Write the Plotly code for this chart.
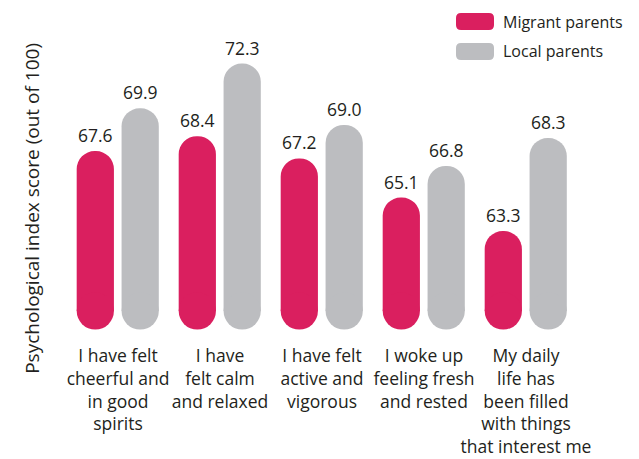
import plotly.graph_objects as go

categories = [
    "I have felt<br>cheerful and<br>in good<br>spirits",
    "I have<br>felt calm<br>and relaxed",
    "I have felt<br>active and<br>vigorous",
    "I woke up<br>feeling fresh<br>and rested",
    "My daily<br>life has<br>been filled<br>with things<br>that interest me",
]
migrant = [67.6, 68.4, 67.2, 65.1, 63.3]
local = [69.9, 72.3, 69.0, 66.8, 68.3]
series_names = ["Migrant parents", "Local parents"]
axis_min = 59   # value at the centre of each bar's rounded foot
axis_max = 74

MAG = "#DA1F5F"
GRAY = "#BCBDC0"
TXT = "#231F20"
FONT = "Open Sans"

W, H = 639, 459
L, R, T = 67, 62, 32
plot_w = W - L - R
px_per_cat = plot_w / len(categories)
bar_w = 0.365
bar_px = bar_w * px_per_cat
px_per_unit = bar_px / 2          # foot radius equals one value unit
plot_h = (axis_max - axis_min) * px_per_unit
B = H - T - plot_h

x_idx = list(range(len(categories)))
fig = go.Figure()

offsets = [-0.405, 0.035]
for name, vals, color, off in zip(series_names, [migrant, local], [MAG, GRAY], offsets):
    fig.add_trace(go.Bar(
        x=x_idx, y=vals, width=bar_w, offset=off, name=name,
        marker=dict(color=color, line=dict(width=0), cornerradius="50%"),
        showlegend=False, hoverinfo="skip"))
    fig.add_trace(go.Scatter(
        x=[i + off + bar_w / 2 for i in x_idx], y=[axis_min] * len(x_idx),
        mode="markers", cliponaxis=False, showlegend=False, hoverinfo="skip",
        marker=dict(symbol="circle", size=bar_px, color=color, line=dict(width=0))))

def px2x(px):
    return (px - L) / plot_w
def py2y(py):
    return (T + plot_h - py) / plot_h

annotations = []
for vals, off in zip([migrant, local], offsets):
    for i, v in enumerate(vals):
        annotations.append(dict(
            x=i + off + bar_w / 2, y=v, xref="x", yref="y", text=f"{v:.1f}", showarrow=False,
            xanchor="center", yanchor="bottom", yshift=2,
            font=dict(family=FONT, size=17.5, color=TXT)))

annotations.append(dict(
    x=px2x(32), y=py2y(209), xref="paper", yref="paper",
    text="Psychological index score (out of 100)",
    showarrow=False, textangle=-90, xanchor="center", yanchor="middle",
    font=dict(family=FONT, size=19, color=TXT)))

shapes = []
def rounded(x0, y0, x1, y1, r):
    X = px2x; Y = py2y
    return (f"M{X(x0+r)},{Y(y0)} L{X(x1-r)},{Y(y0)} Q{X(x1)},{Y(y0)} {X(x1)},{Y(y0+r)} "
            f"L{X(x1)},{Y(y1-r)} Q{X(x1)},{Y(y1)} {X(x1-r)},{Y(y1)} "
            f"L{X(x0+r)},{Y(y1)} Q{X(x0)},{Y(y1)} {X(x0)},{Y(y1-r)} "
            f"L{X(x0)},{Y(y0+r)} Q{X(x0)},{Y(y0)} {X(x0+r)},{Y(y0)} Z")

for j, (name, color) in enumerate(zip(series_names, [MAG, GRAY])):
    y0 = 13 + j * 30
    shapes.append(dict(type="path", xref="paper", yref="paper",
                       path=rounded(456, y0, 494, y0 + 17, 5),
                       fillcolor=color, line=dict(width=0)))
    annotations.append(dict(x=px2x(501), y=py2y(y0 + 8.5), xref="paper", yref="paper",
                            text=name, showarrow=False, xanchor="left", yanchor="middle",
                            font=dict(family=FONT, size=16, color=TXT)))

fig.update_layout(
    width=W, height=H,
    margin=dict(l=L, r=R, t=T, b=B, pad=0),
    barmode="overlay",
    plot_bgcolor="white", paper_bgcolor="white",
    showlegend=False,
    annotations=annotations,
    shapes=shapes,
    xaxis=dict(
        tickmode="array", tickvals=x_idx, ticktext=categories,
        range=[-0.5, len(categories) - 0.5], tickangle=0, automargin=False,
        showgrid=False, zeroline=False, showline=False,
        ticks="outside", ticklen=29, tickcolor="rgba(0,0,0,0)",
        tickfont=dict(family=FONT, size=17.5, color=TXT),
    ),
    yaxis=dict(
        range=[axis_min, axis_max], showgrid=False, zeroline=False, showline=False,
        showticklabels=False, ticks="", automargin=False,
    ),
)

fig.write_html("out.html", config={"displayModeBar": False},
               post_script="document.body.style.margin='0';document.body.style.overflow='hidden';")
